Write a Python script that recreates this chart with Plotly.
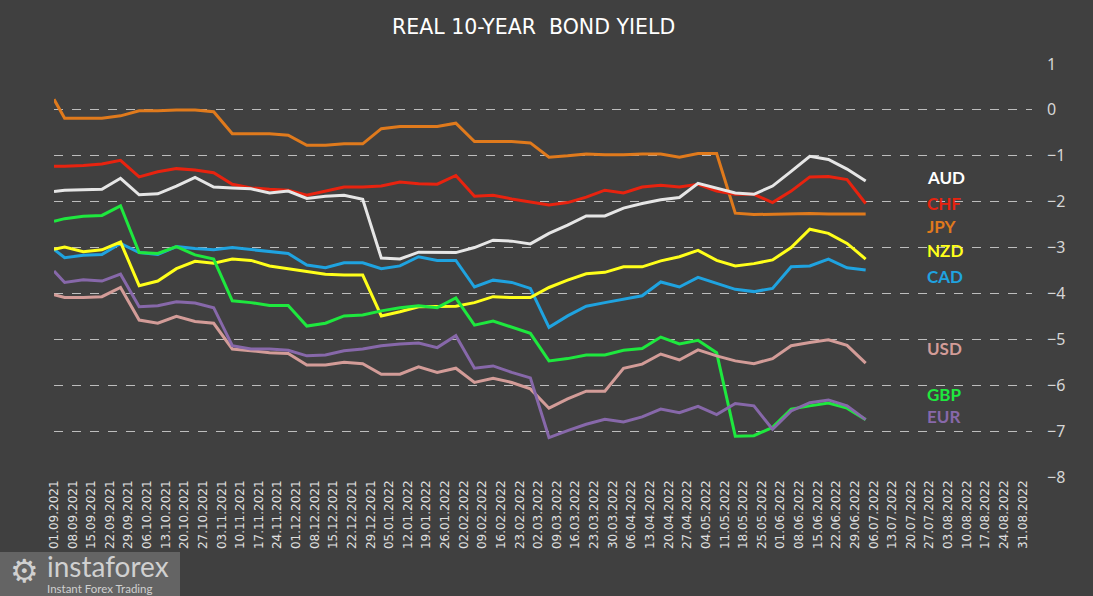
import datetime as dt
import plotly.graph_objects as go

# ---- data -------------------------------------------------------------
first_date = dt.date(2021, 9, 1)
point_dates = [first_date] + [dt.date(2021, 9, 5) + dt.timedelta(weeks=k) for k in range(44)]
tick_dates = [first_date + dt.timedelta(weeks=k) for k in range(53)]
tick_labels = [d.strftime("%d.%m.%Y") for d in tick_dates]

aud = [-1.78, -1.75, -1.74, -1.73, -1.49, -1.85, -1.83, -1.66, -1.47, -1.68,
       -1.70, -1.72, -1.81, -1.77, -1.93, -1.88, -1.86, -1.95, -3.23, -3.25,
       -3.10, -3.11, -3.11, -3.00, -2.84, -2.86, -2.92, -2.69, -2.51, -2.31,
       -2.31, -2.14, -2.04, -1.96, -1.91, -1.60, -1.70, -1.81, -1.84, -1.66,
       -1.34, -1.01, -1.08, -1.29, -1.55]
chf = [-1.23, -1.23, -1.21, -1.18, -1.10, -1.46, -1.35, -1.28, -1.31, -1.37,
       -1.62, -1.70, -1.73, -1.75, -1.86, -1.77, -1.68, -1.68, -1.66, -1.57,
       -1.61, -1.62, -1.43, -1.88, -1.86, -1.94, -2.01, -2.07, -2.02, -1.90,
       -1.75, -1.81, -1.68, -1.64, -1.68, -1.62, -1.77, -1.84, -1.84, -2.02,
       -1.77, -1.46, -1.45, -1.52, -2.04]
jpy = [0.23, -0.18, -0.18, -0.18, -0.13, -0.02, -0.02, 0.00, 0.00, -0.04,
       -0.52, -0.52, -0.52, -0.55, -0.77, -0.77, -0.74, -0.74, -0.41, -0.36,
       -0.36, -0.36, -0.29, -0.69, -0.69, -0.69, -0.72, -1.03, -1.00, -0.96,
       -0.98, -0.98, -0.96, -0.96, -1.03, -0.95, -0.95, -2.25, -2.28, -2.27,
       -2.26, -2.26, -2.27, -2.27, -2.27]
nzd = [-3.04, -2.99, -3.09, -3.05, -2.88, -3.83, -3.73, -3.46, -3.30, -3.34,
       -3.25, -3.28, -3.40, -3.46, -3.52, -3.58, -3.60, -3.60, -4.49, -4.40,
       -4.29, -4.28, -4.28, -4.20, -4.07, -4.09, -4.09, -3.87, -3.71, -3.57,
       -3.54, -3.42, -3.42, -3.29, -3.20, -3.06, -3.28, -3.40, -3.35, -3.27,
       -3.00, -2.60, -2.69, -2.91, -3.25]
cad = [-3.04, -3.22, -3.17, -3.15, -2.91, -3.11, -3.15, -2.98, -3.02, -3.05,
       -3.00, -3.04, -3.09, -3.13, -3.38, -3.44, -3.33, -3.33, -3.46, -3.40,
       -3.20, -3.28, -3.28, -3.86, -3.71, -3.76, -3.89, -4.74, -4.49, -4.28,
       -4.20, -4.12, -4.05, -3.75, -3.86, -3.65, -3.78, -3.91, -3.96, -3.89,
       -3.42, -3.40, -3.25, -3.44, -3.49]
usd = [-4.03, -4.09, -4.09, -4.07, -3.87, -4.58, -4.65, -4.50, -4.61, -4.65,
       -5.21, -5.25, -5.29, -5.31, -5.56, -5.56, -5.50, -5.53, -5.76, -5.76,
       -5.60, -5.72, -5.63, -5.94, -5.85, -5.94, -6.08, -6.50, -6.30, -6.13,
       -6.13, -5.63, -5.54, -5.32, -5.45, -5.23, -5.36, -5.47, -5.53, -5.42,
       -5.14, -5.07, -5.01, -5.13, -5.52]
gbp = [-2.43, -2.37, -2.32, -2.30, -2.09, -3.11, -3.13, -2.98, -3.16, -3.25,
       -4.16, -4.20, -4.26, -4.26, -4.71, -4.65, -4.49, -4.47, -4.38, -4.31,
       -4.27, -4.31, -4.10, -4.69, -4.60, -4.74, -4.87, -5.47, -5.42, -5.34,
       -5.34, -5.24, -5.20, -4.95, -5.10, -5.02, -5.29, -7.11, -7.10, -6.92,
       -6.52, -6.45, -6.39, -6.50, -6.75]
eur = [-3.51, -3.76, -3.70, -3.73, -3.58, -4.29, -4.27, -4.18, -4.21, -4.31,
       -5.14, -5.21, -5.21, -5.24, -5.36, -5.34, -5.25, -5.21, -5.14, -5.10,
       -5.08, -5.18, -4.92, -5.63, -5.58, -5.72, -5.84, -7.14, -6.99, -6.85,
       -6.74, -6.80, -6.69, -6.52, -6.60, -6.46, -6.64, -6.40, -6.45, -6.96,
       -6.56, -6.38, -6.32, -6.45, -6.75]

series_names = ["AUD", "CHF", "JPY", "NZD", "CAD", "USD", "GBP", "EUR"]
series_values = [aud, chf, jpy, nzd, cad, usd, gbp, eur]

# ---- styles -----------------------------------------------------------
colors = {"AUD": "#e6e6e6", "CHF": "#e8230f", "JPY": "#e07a1c", "NZD": "#ffff1a",
          "CAD": "#1fa3e0", "USD": "#d39c98", "GBP": "#1ee83e", "EUR": "#8768aa"}
label_y = {"AUD": -1.48, "CHF": -2.03, "JPY": -2.55, "NZD": -3.07,
           "CAD": -3.64, "USD": -5.21, "GBP": -6.21, "EUR": -6.69}
draw_order = ["JPY", "CHF", "AUD", "CAD", "NZD", "GBP", "USD", "EUR"]

BG = "#404040"
L, T, PW, PH = 54.0, 64.0, 978.0, 413.0  # plot area in px


def px(xp):
    return (xp - L) / PW


def py(yp):
    return (T + PH - yp) / PH


fig = go.Figure()
for name in draw_order:
    vals = series_values[series_names.index(name)]
    fig.add_trace(go.Scatter(x=point_dates, y=vals, mode="lines", name=name,
                             line=dict(color=colors[name], width=3),
                             showlegend=False, hoverinfo="skip"))

for name in series_names:
    fig.add_annotation(x=px(925), xref="paper", y=label_y[name], yref="y",
                       text=f"<b>{name}</b>", showarrow=False, xanchor="left",
                       font=dict(family="Lato, Open Sans, sans-serif", size=17,
                                 color=colors[name] if name != "AUD" else "#ffffff"))

fig.add_annotation(x=px(533), xref="paper", y=py(27), yref="paper",
                   yanchor="middle", text="REAL 10-YEAR  BOND YIELD", showarrow=False,
                   font=dict(family="DejaVu Sans", size=20.5, color="#ffffff"))

# watermark box
fig.add_shape(type="rect", xref="paper", yref="paper", x0=px(0), x1=px(180),
              y0=py(596), y1=py(552), fillcolor="rgba(112,112,112,0.75)", line_width=0,
              layer="above")
fig.add_annotation(x=px(45), xref="paper", y=py(566), yref="paper", yanchor="middle",
                   xanchor="left", text="instaforex", showarrow=False,
                   font=dict(family="Lato, sans-serif", size=28, color="#d0d0d0"))
fig.add_annotation(x=px(45), xref="paper", y=py(588), yref="paper", yanchor="middle",
                   xanchor="left", text="Instant Forex Trading", showarrow=False,
                   font=dict(family="Lato, sans-serif", size=11.5, color="#d0d0d0"))
fig.add_annotation(x=px(24), xref="paper", y=py(571), yref="paper", yanchor="middle",
                   xanchor="center", text="⚙", showarrow=False,
                   font=dict(family="DejaVu Sans", size=32, color="#d0d0d0"))

fig.update_layout(
    width=1093, height=596,
    margin=dict(l=54, r=61, t=64, b=119),
    paper_bgcolor=BG, plot_bgcolor=BG,
    xaxis=dict(type="date", range=[dt.datetime(2021, 9, 1), dt.datetime(2022, 9, 3, 12)],
               tickmode="array", tickvals=tick_dates, ticktext=tick_labels,
               tickangle=-90, showgrid=False, zeroline=False, showline=False,
               ticks="", tickfont=dict(family="DejaVu Sans", size=12, color="#e0e0e0")),
    yaxis=dict(range=[-8, 1], dtick=1, side="right", showgrid=True,
               gridcolor="#bdbdbd", griddash="dash", gridwidth=1, zeroline=False,
               showline=False, ticks="", ticklabelstandoff=14,
               tickfont=dict(family="Noto Sans, sans-serif", size=16, color="#d6d6d6")),
)

fig.write_html("out.html", config={"displayModeBar": False},
               post_script="document.body.style.margin='0';document.body.style.background='#404040';")
